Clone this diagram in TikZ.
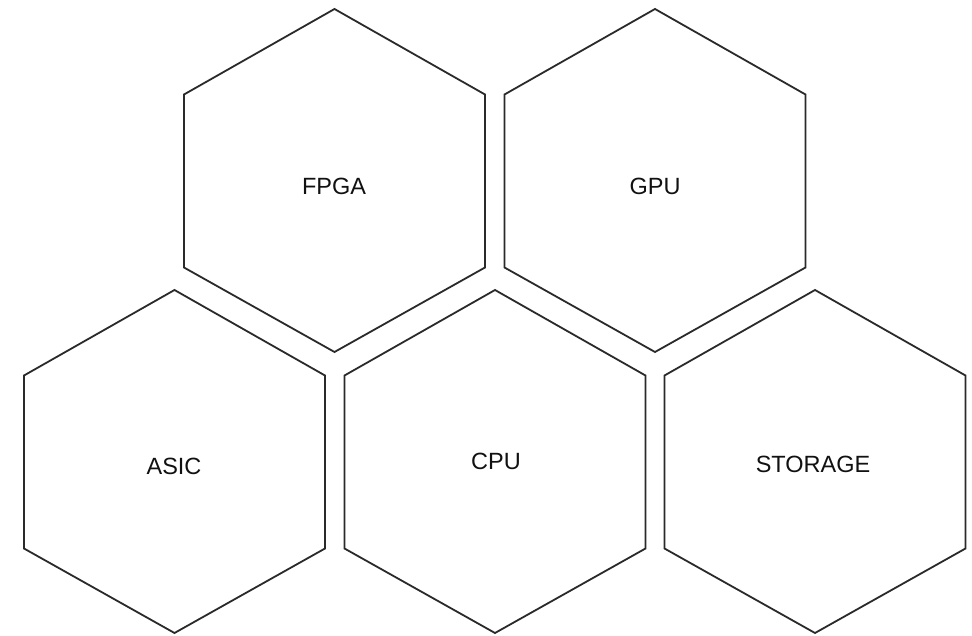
\documentclass[tikz,border=0pt]{standalone}
\usepackage{fontspec}
\setmainfont{Liberation Sans}
\definecolor{edge}{HTML}{2A2A2A}
\definecolor{txt}{HTML}{111111}
\tikzset{
  hexcell/.style={draw=edge, line width=1.8pt, line join=miter},
  hexlabel/.style={text=txt, font=\fontsize{23.5}{28}\selectfont, inner sep=0pt}
}
\newcommand{\hexcellat}[2]{%
  \draw[hexcell] (#1,#2-171.5) -- (#1+150.5,#2-86) -- (#1+150.5,#2+87) -- (#1,#2+171.5) -- (#1-150.5,#2+87) -- (#1-150.5,#2-86) -- cycle;}
\begin{document}
\begin{tikzpicture}[x=1pt,y=-1pt]
\useasboundingbox (0,0) rectangle (972,636);
\fill[white] (0,0) rectangle (972,636);
\hexcellat{334.5}{180.5}
\hexcellat{655}{180.5}
\hexcellat{174.5}{461.5}
\hexcellat{495}{461.5}
\hexcellat{815}{461.5}
\node[hexlabel] (fpga) at (334,186) {FPGA};
\node[hexlabel] (gpu) at (655,186) {GPU};
\node[hexlabel] (asic) at (174,466) {ASIC};
\node[hexlabel] (cpu) at (496,461) {CPU};
\node[hexlabel] (storage) at (813,464) {STORAGE};
\end{tikzpicture}
\end{document}
